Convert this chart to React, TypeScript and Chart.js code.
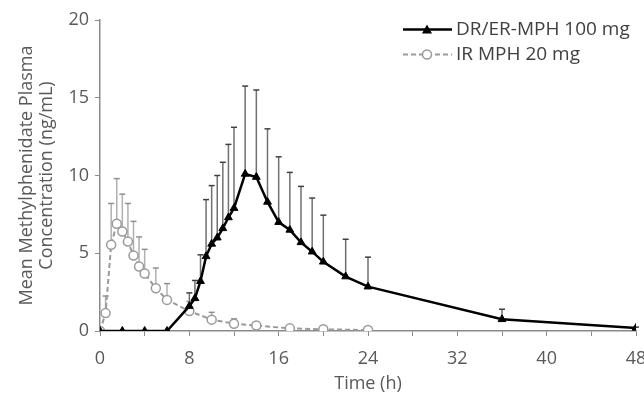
import React, { useEffect, useRef } from "react";
import { Chart, registerables } from "chart.js";

Chart.register(...registerables);

// ---- Data ----
const drTimes = [0, 2, 4, 6, 8, 8.5, 9, 9.5, 10, 10.5, 11, 11.5, 12, 13, 14, 15, 16, 17, 18, 19, 20, 22, 24, 36, 48];
const drMeans = [0, 0, 0, 0, 1.6, 2.1, 3.2, 4.8, 5.6, 6.0, 6.6, 7.3, 7.9, 10.1, 9.9, 8.3, 7.0, 6.5, 5.7, 5.1, 4.45, 3.5, 2.85, 0.75, 0.2];
const drUpper = [0, 0, 0, 0, 2.45, 3.25, 4.9, 8.45, 9.35, 10.0, 10.85, 12.0, 13.1, 15.75, 15.5, 13.0, 11.2, 10.2, 9.3, 8.55, 7.45, 5.9, 4.75, 1.4, 0.25];

const irTimes = [0, 0.5, 1, 1.5, 2, 2.5, 3, 3.5, 4, 5, 6, 8, 10, 12, 14, 17, 20, 24];
const irMeans = [0, 1.15, 5.55, 6.9, 6.4, 5.75, 4.85, 4.15, 3.7, 2.75, 2.0, 1.28, 0.73, 0.47, 0.35, 0.17, 0.11, 0.06];
const irUpper = [0, 2.25, 8.2, 9.8, 8.8, 8.2, 7.05, 6.05, 5.25, 4.05, 3.05, 1.9, 1.2, 0.78, 0.45, 0.25, 0.18, 0.1];

const seriesLabels = ["DR/ER-MPH 100 mg", "IR MPH 20 mg"];
const xTickValues = [0, 8, 16, 24, 32, 40, 48];
const yTickValues = [0, 5, 10, 15, 20];
const xTitle = "Time (h)";
const yTitle = ["Mean Methylphenidate Plasma", "Concentration (ng/mL)"];

const FONT = "'Open Sans', 'Noto Sans', sans-serif";
const TEXT = "#595959";
const AXIS = "#8a8a8a";
const BLACK = "#000000";
const GRAY = "#9a9a9a";

const errorBarPlugin = {
  id: "errorBars",
  beforeDatasetsDraw(chart: any) {
    const ctx = chart.ctx;
    const xs = chart.scales.x;
    const ys = chart.scales.y;
    const sets = [
      { t: drTimes, m: drMeans, u: drUpper, line: "#707070", cap: "#404040" },
      { t: irTimes, m: irMeans, u: irUpper, line: "#b0b0b0", cap: "#909090" },
    ];
    ctx.save();
    sets.forEach((s) => {
      s.t.forEach((t, i) => {
        if (s.u[i] <= s.m[i]) return;
        const px = xs.getPixelForValue(t);
        const y0 = ys.getPixelForValue(s.m[i]);
        const y1 = ys.getPixelForValue(s.u[i]);
        ctx.strokeStyle = s.line;
        ctx.lineWidth = 1.5;
        ctx.beginPath();
        ctx.moveTo(px, y0);
        ctx.lineTo(px, y1);
        ctx.stroke();
        ctx.strokeStyle = s.cap;
        ctx.lineWidth = 1.5;
        ctx.beginPath();
        ctx.moveTo(px - 3, y1);
        ctx.lineTo(px + 3, y1);
        ctx.stroke();
      });
    });
    ctx.restore();
  },
};

const legendPlugin = {
  id: "customLegend",
  afterDraw(chart: any) {
    const ctx = chart.ctx;
    ctx.save();
    const x0 = 403, x1 = 452, mx = 427, tx = 456;
    const rows = [29.5, 54.5];
    // row 1: solid black with triangle
    ctx.strokeStyle = BLACK;
    ctx.lineWidth = 2.5;
    ctx.beginPath();
    ctx.moveTo(x0, rows[0]);
    ctx.lineTo(x1, rows[0]);
    ctx.stroke();
    ctx.fillStyle = BLACK;
    ctx.beginPath();
    ctx.moveTo(mx, rows[0] - 5);
    ctx.lineTo(mx + 5, rows[0] + 4);
    ctx.lineTo(mx - 5, rows[0] + 4);
    ctx.closePath();
    ctx.fill();
    // row 2: dashed gray with circle
    ctx.strokeStyle = GRAY;
    ctx.lineWidth = 2;
    ctx.setLineDash([5, 3]);
    ctx.beginPath();
    ctx.moveTo(x0, rows[1]);
    ctx.lineTo(x1, rows[1]);
    ctx.stroke();
    ctx.setLineDash([]);
    ctx.fillStyle = "#ffffff";
    ctx.lineWidth = 1.5;
    ctx.beginPath();
    ctx.arc(mx, rows[1], 4.5, 0, Math.PI * 2);
    ctx.fill();
    ctx.stroke();
    // text
    ctx.fillStyle = "#404040";
    ctx.font = `19px ${FONT}`;
    ctx.textBaseline = "middle";
    ctx.textAlign = "left";
    ctx.fillText(seriesLabels[0], tx, rows[0]);
    ctx.fillText(seriesLabels[1], tx, rows[1]);
    ctx.restore();
  },
};

export default function App() {
  const ref = useRef<HTMLCanvasElement | null>(null);

  useEffect(() => {
    if (!ref.current) return;
    const chart = new Chart(ref.current, {
      type: "line",
      data: {
        datasets: [
          {
            label: seriesLabels[0],
            data: drTimes.map((t, i) => ({ x: t, y: drMeans[i] })),
            borderColor: BLACK,
            borderWidth: 2.5,
            pointStyle: "triangle",
            pointRadius: 4.5,
            pointBackgroundColor: BLACK,
            pointBorderColor: BLACK,
            pointBorderWidth: 1,
            tension: 0,
            order: 1,
          },
          {
            label: seriesLabels[1],
            data: irTimes.map((t, i) => ({ x: t, y: irMeans[i] })),
            borderColor: GRAY,
            borderWidth: 2,
            borderDash: [5, 3],
            pointStyle: "circle",
            pointRadius: 4.5,
            pointBackgroundColor: "#ffffff",
            pointBorderColor: GRAY,
            pointBorderWidth: 1.5,
            tension: 0,
            order: 2,
          },
        ],
      },
      options: {
        animation: false,
        responsive: false,
        maintainAspectRatio: false,
        layout: { padding: { top: 20, right: 8, left: 0, bottom: 0 } },
        plugins: {
          legend: { display: false },
          tooltip: { enabled: false },
        },
        scales: {
          x: {
            type: "linear",
            min: 0,
            max: 48,
            afterBuildTicks: (scale: any) => {
              const arr = [];
              for (let v = 0; v <= 48; v += 4) arr.push({ value: v });
              scale.ticks = arr;
            },
            afterFit: (scale: any) => {
              scale.height = 68;
              scale.paddingRight = 0;
              scale.paddingLeft = 0;
            },
            ticks: {
              autoSkip: false,
              maxRotation: 0,
              padding: 12,
              color: TEXT,
              font: { family: FONT, size: 18 },
              callback: (v: any) => (xTickValues.includes(Number(v)) ? String(v) : ""),
            },
            grid: { drawOnChartArea: false, drawTicks: true, tickLength: 5, color: AXIS, lineWidth: 1 },
            border: { display: true, color: AXIS, width: 1.5 },
            title: {
              display: true,
              text: xTitle,
              color: TEXT,
              font: { family: FONT, size: 18 },
              padding: { top: 0, bottom: 4 },
            },
          },
          y: {
            type: "linear",
            min: 0,
            max: 20,
            afterBuildTicks: (scale: any) => {
              scale.ticks = yTickValues.map((v) => ({ value: v }));
            },
            afterFit: (scale: any) => {
              scale.width = 100;
              scale.paddingTop = 0;
              scale.paddingBottom = 0;
            },
            ticks: {
              padding: 6,
              color: TEXT,
              font: { family: FONT, size: 18 },
            },
            grid: { drawOnChartArea: false, drawTicks: true, tickLength: 5, color: AXIS, lineWidth: 1 },
            border: { display: true, color: AXIS, width: 1.5 },
            title: {
              display: true,
              text: yTitle,
              color: TEXT,
              font: { family: FONT, size: 18, lineHeight: 1.1 },
              padding: { top: 17, bottom: 0 },
            },
          },
        },
      },
      plugins: [errorBarPlugin, legendPlugin],
    });
    return () => chart.destroy();
  }, []);

  return (
    <div style={{ position: "fixed", left: 0, top: 0, width: 644, height: 399, background: "#fff" }}>
      <canvas ref={ref} width={644} height={399} style={{ width: 644, height: 399, display: "block" }} />
    </div>
  );
}
